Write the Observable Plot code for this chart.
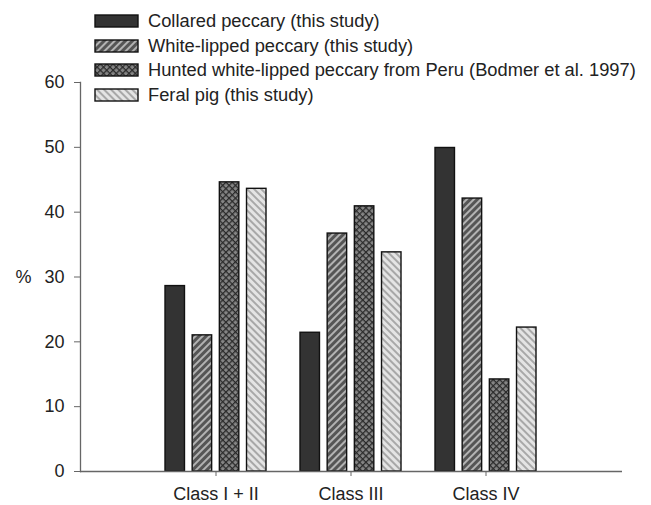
<!DOCTYPE html>
<html><head><meta charset="utf-8">
<script src="https://cdn.jsdelivr.net/npm/d3@7"></script>
<script src="https://cdn.jsdelivr.net/npm/@observablehq/plot@0.6"></script>
<style>
body{margin:0;background:#fff;}
#wrap{position:relative;width:651px;height:505px;font-family:"Liberation Sans",Arial,sans-serif;color:#222;}
#legend{position:absolute;left:94px;top:9px;font-size:18.3px;}
#legend .row{display:flex;align-items:center;height:24.5px;white-space:nowrap;}
#legend svg{margin-right:8px;display:block;}
</style></head><body><div id="wrap"><div id="legend"></div></div>
<script>
const classes = ["Class I + II", "Class III", "Class IV"];
const series = [
  "Collared peccary (this study)",
  "White-lipped peccary (this study)",
  "Hunted white-lipped peccary from Peru (Bodmer et al. 1997)",
  "Feral pig (this study)"
];
const collared = [28.6, 21.4, 49.9];
const whiteLipped = [21.0, 36.7, 42.1];
const huntedPeru = [44.6, 40.9, 14.2];
const feralPig = [43.6, 33.8, 22.2];
const yTicks = [0, 10, 20, 30, 40, 50, 60];
const yLabel = "%";

const values = [collared, whiteLipped, huntedPeru, feralPig];
const fills = ["#333333", "url(#pat-wl)", "url(#pat-hunt)", "url(#pat-feral)"];
const table = classes.flatMap((c, i) => series.map((s, j) => ({cls: c, series: s, value: values[j][i]})));

const W = 651, H = 505, mL = 80, mR = 29, mT = 82, mB = 34;
const xOpts = {type: "band", domain: classes, paddingInner: 0.25, paddingOuter: 0.625};
const xScale = Plot.scale({x: {...xOpts, range: [mL, W - mR]}});
const sub = d3.scaleBand().domain(series).range([0, xScale.bandwidth]).paddingInner(0.26).paddingOuter(0);

const barMarks = series.map((s, j) => Plot.barY(table.filter(d => d.series === s), {
  x: "cls", y: "value", fill: "series",
  insetLeft: sub(s), insetRight: xScale.bandwidth - sub(s) - sub.bandwidth(),
  stroke: "#111", strokeWidth: 1.4
}));

const chart = Plot.plot({
  width: W, height: H,
  marginTop: mT, marginBottom: mB, marginLeft: mL, marginRight: mR,
  style: {fontFamily: "'Liberation Sans', Arial, sans-serif", fontSize: "18px", color: "#222", background: "transparent"},
  x: {...xOpts, label: null},
  y: {domain: [0, 60], label: null},
  color: {domain: series, range: fills},
  marks: [
    ...barMarks,
    Plot.frame({anchor: "left", stroke: "#666", strokeWidth: 1.3}),
    Plot.ruleY([0], {stroke: "#666", strokeWidth: 1.3}),
    Plot.axisY({ticks: yTicks, tickSize: 6, tickPadding: 10, label: null, stroke: "#666", fill: "#222"}),
    Plot.axisX({tickSize: 5, tickPadding: 11, label: null, stroke: "#666", fill: "#222"}),
    Plot.text([{t: yLabel, v: 30}], {y: "v", text: "t", frameAnchor: "left", textAnchor: "start", dx: -65, fill: "#222"})
  ]
});

const defs = `
<defs>
  <pattern id="pat-wl" width="5" height="5" patternUnits="userSpaceOnUse" patternTransform="rotate(45)">
    <rect width="5" height="5" fill="#555"/>
    <line x1="1" y1="0" x2="1" y2="5" stroke="#bdbdbd" stroke-width="1.8"/>
  </pattern>
  <pattern id="pat-hunt" width="4.5" height="4.5" patternUnits="userSpaceOnUse" patternTransform="rotate(45)">
    <rect width="4.5" height="4.5" fill="#858585"/>
    <line x1="0.6" y1="0" x2="0.6" y2="4.5" stroke="#2a2a2a" stroke-width="1.3"/>
    <line x1="0" y1="0.6" x2="4.5" y2="0.6" stroke="#2a2a2a" stroke-width="1.3"/>
  </pattern>
  <pattern id="pat-feral" width="5" height="5" patternUnits="userSpaceOnUse" patternTransform="rotate(-45)">
    <rect width="5" height="5" fill="#e4e4e4"/>
    <line x1="1" y1="0" x2="1" y2="5" stroke="#a8a8a8" stroke-width="2"/>
  </pattern>
</defs>`;
chart.insertAdjacentHTML("afterbegin", defs);
const wrap = document.getElementById("wrap");
wrap.insertBefore(chart, wrap.firstChild);

const legend = document.getElementById("legend");
series.forEach((s, j) => {
  const row = document.createElement("div");
  row.className = "row";
  row.innerHTML = `<svg width="46" height="14"><rect x="1" y="1" width="43" height="12" fill="${fills[j]}" stroke="#111" stroke-width="1.4"/></svg><span>${s}</span>`;
  legend.appendChild(row);
});
</script></body></html>
